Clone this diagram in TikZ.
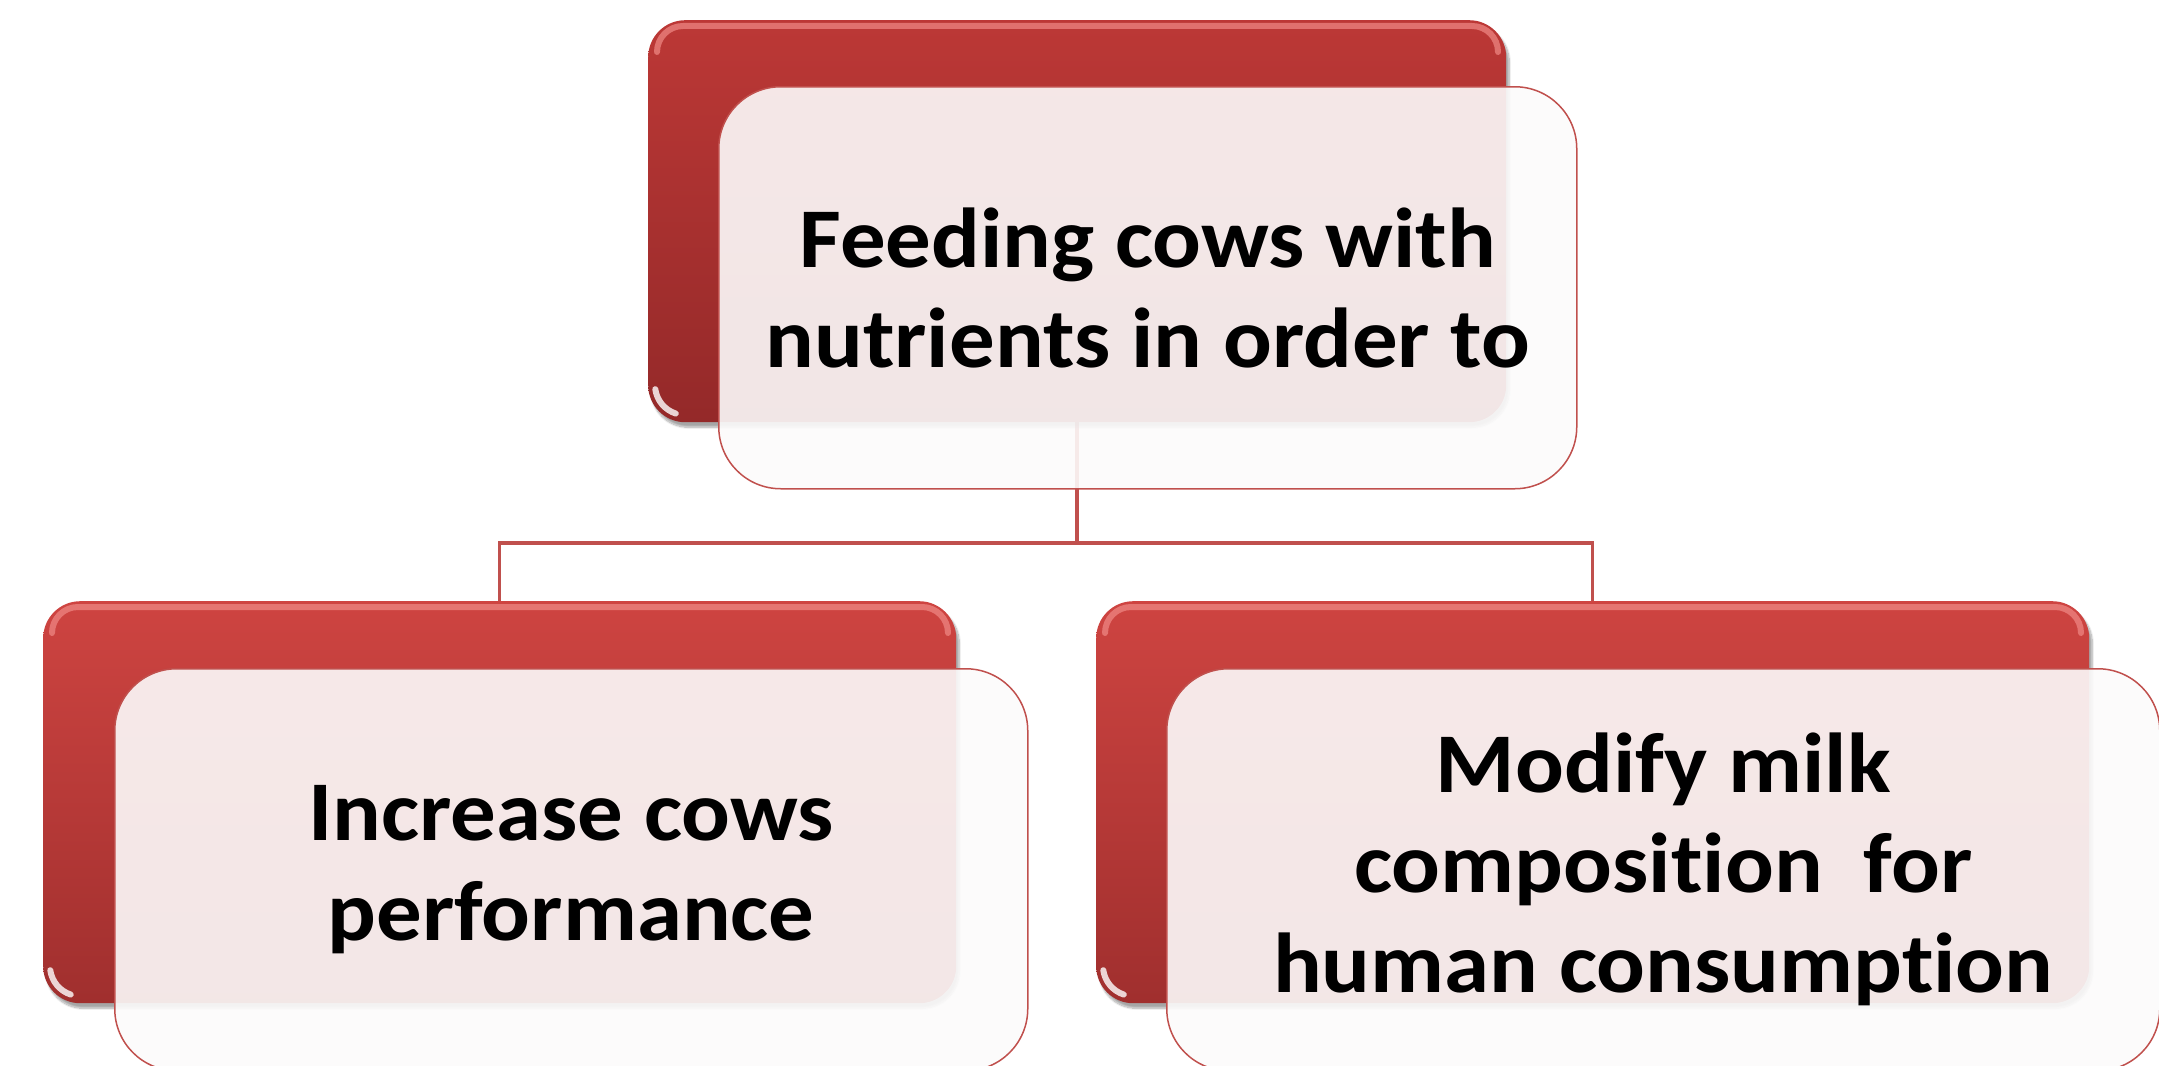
\documentclass[tikz,border=0pt]{standalone}
\usepackage{fontspec}
\setmainfont{Carlito}[Ligatures=NoCommon, FakeStretch=1.07]
\usetikzlibrary{shadows.blur,backgrounds}

\definecolor{linkred}{RGB}{192,80,77}
\definecolor{topA}{RGB}{188,56,54}
\definecolor{topB}{RGB}{148,41,41}
\definecolor{lowA}{RGB}{206,68,65}
\definecolor{lowB}{RGB}{160,47,46}
\definecolor{shine}{RGB}{240,138,134}
\definecolor{cardfill}{RGB}{252,251,251}

\tikzset{
  backbox/.style={draw=none, rounded corners=37pt, inner sep=0pt,
    anchor=north west,
    blur shadow={shadow xshift=3pt, shadow yshift=-5pt, shadow opacity=35, shadow blur steps=10}},
  darkbox/.style={backbox, top color=topA, bottom color=topB},
  lightbox/.style={backbox, top color=lowA, bottom color=lowB},
  card/.style={draw=linkred, line width=1.5pt, fill=cardfill, fill opacity=0.9,
    text opacity=1, rounded corners=62pt, inner sep=0pt, anchor=north west,
    align=center, font=\fontsize{85}{100}\selectfont\bfseries},
  rim/.style={shine, line width=6pt, opacity=0.7, line cap=round},
  glint/.style={white, line width=6pt, opacity=0.8, line cap=round},
  link/.style={linkred, line width=3.5pt}
}

\begin{document}
\begin{tikzpicture}[x=1pt,y=-1pt]
\useasboundingbox (0,0) rectangle (2159,1065);
\clip (0,0) rectangle (2159,1065);

% coloured backing plates, each with a soft rim light and a corner glint
\node[darkbox, minimum width=858pt, minimum height=402pt] (topred) at (648,20) {};
\draw[rim] (657,52) arc[start angle=180, end angle=270, radius=26] -- (1472,26) arc[start angle=270, end angle=360, radius=26];
\draw[glint] (685,385) ++(172:30) arc[start angle=172, end angle=108, radius=30];

\node[lightbox, minimum width=913pt, minimum height=402pt] (leftred) at (43,601) {};
\draw[rim] (52,633) arc[start angle=180, end angle=270, radius=26] -- (922,607) arc[start angle=270, end angle=360, radius=26];
\draw[glint] (80,966) ++(172:30) arc[start angle=172, end angle=108, radius=30];

\node[lightbox, minimum width=993pt, minimum height=402pt] (rightred) at (1096,601) {};
\draw[rim] (1105,633) arc[start angle=180, end angle=270, radius=26] -- (2055,607) arc[start angle=270, end angle=360, radius=26];
\draw[glint] (1133,966) ++(172:30) arc[start angle=172, end angle=108, radius=30];

% translucent text cards
\node[card, minimum width=858pt, minimum height=402pt] (goal) at (718,86)
  {Feeding cows with\\nutrients in order to};
\node[card, minimum width=913pt, minimum height=402pt] (perf) at (114,668)
  {Increase cows\\performance};
\node[card, minimum width=993pt, minimum height=402pt] (milk) at (1166,668)
  {Modify milk\\composition\ \ for\\human consumption};

% tree connectors behind everything
\coordinate (bus) at (0,543);
\begin{scope}[on background layer]
  \draw[link] (topred.south) -- (topred.south |- bus) -| (leftred.north);
  \draw[link] (topred.south |- bus) -| (rightred.north);
\end{scope}
\end{tikzpicture}
\end{document}
